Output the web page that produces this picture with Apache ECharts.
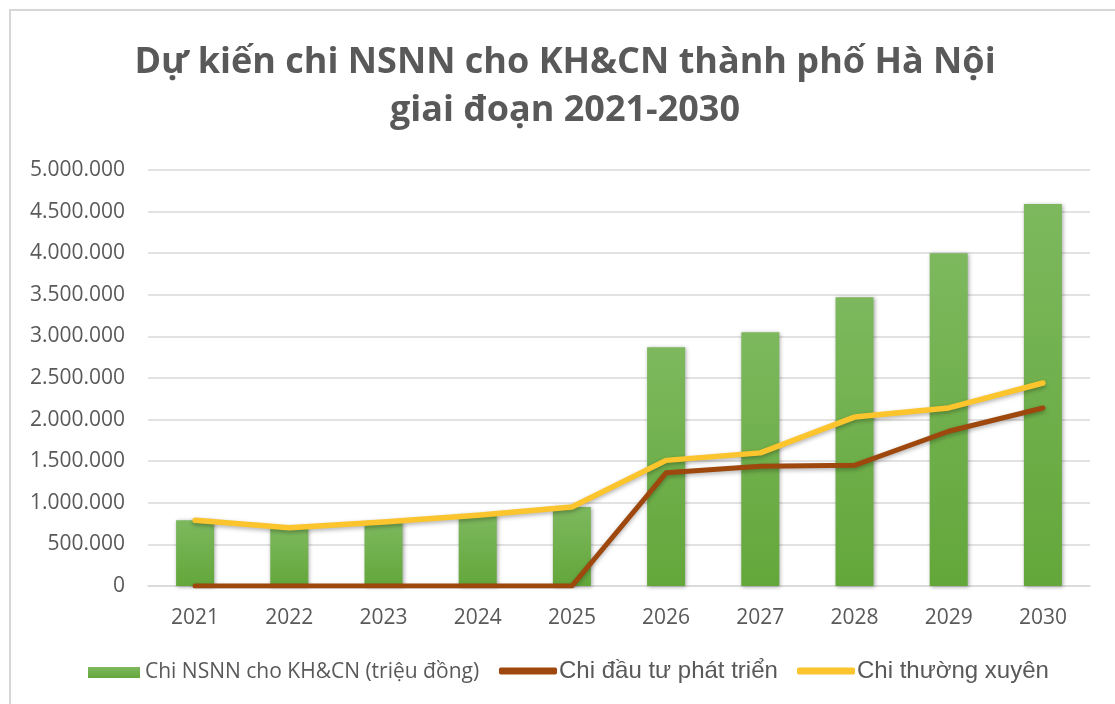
<!DOCTYPE html>
<html>
<head>
<meta charset="utf-8">
<script src="https://cdn.jsdelivr.net/npm/echarts@6/dist/echarts.min.js"></script>
<style>
html,body{margin:0;padding:0;background:#fff;}
#chart{width:1115px;height:704px;}
</style>
</head>
<body>
<div id="chart"></div>
<script>
var years = ['2021','2022','2023','2024','2025','2026','2027','2028','2029','2030'];
var totalBudget = [790000, 700000, 770000, 850000, 950000, 2870000, 3050000, 3470000, 4000000, 4590000];
var devInvest = [0, 0, 0, 0, 0, 1360000, 1440000, 1450000, 1860000, 2140000];
var regularSpend = [790000, 700000, 770000, 850000, 950000, 1510000, 1600000, 2030000, 2140000, 2440000];
var seriesNames = ['Chi NSNN cho KH&CN (triệu đồng)', 'Chi đầu tư phát triển', 'Chi thường xuyên'];
var titleText = 'Dự kiến chi NSNN cho KH&CN thành phố Hà Nội\ngiai đoạn 2021-2030';

function fmt(v){ return String(v).replace(/\B(?=(\d{3})+(?!\d))/g, '.'); }

var chart = echarts.init(document.getElementById('chart'), null, {renderer:'canvas'});
var grey = '#595959';
var option = {
  backgroundColor: '#fff',
  animation: false,
  graphic: [{
    type: 'rect', shape: {x: 10, y: 10, width: 1200, height: 800},
    style: {fill: 'none', stroke: '#d6d6d6', lineWidth: 2}, z: -10, silent: true
  }],
  title: {
    text: titleText,
    left: 565, top: 39, padding: 0,
    textAlign: 'center',
    textStyle: {fontFamily: 'Open Sans', fontWeight: 'bold', fontSize: 36, color: grey, lineHeight: 48, align: 'center'}
  },
  grid: {left: 148, right: 25, top: 170, bottom: 118, containLabel: false},
  legend: [
    {data: [{name: seriesNames[0], icon: 'rect'}], left: 88, top: 662, itemWidth: 52, itemHeight: 11, padding: 0,
     textStyle: {fontFamily: 'Open Sans', fontSize: 21, color: grey}},
    {data: [{name: seriesNames[1], icon: 'roundRect'}], left: 499, top: 659, itemWidth: 58, itemHeight: 7, padding: 0,
     textStyle: {fontFamily: 'Liberation Sans', fontSize: 24, color: grey, padding: [0,0,0,-3]}},
    {data: [{name: seriesNames[2], icon: 'roundRect'}], left: 797, top: 659, itemWidth: 58, itemHeight: 7, padding: 0,
     textStyle: {fontFamily: 'Liberation Sans', fontSize: 24, color: grey, padding: [0,0,0,-3]}}
  ],
  xAxis: {
    type: 'category', data: years,
    axisLine: {show: true, lineStyle: {color: '#d9d9d9', width: 1.5}},
    axisTick: {show: false},
    axisLabel: {fontFamily: 'Open Sans', fontSize: 21, color: grey, margin: 22}
  },
  yAxis: {
    type: 'value', min: 0, max: 5000000, interval: 500000,
    axisLine: {show: false}, axisTick: {show: false},
    splitLine: {lineStyle: {color: '#d9d9d9', width: 1.5}},
    axisLabel: {fontFamily: 'Open Sans', fontSize: 21, color: grey, margin: 23, formatter: fmt}
  },
  series: [
    {
      name: seriesNames[0], type: 'bar', data: totalBudget, barWidth: 38,
      itemStyle: {
        color: new echarts.graphic.LinearGradient(0, 0, 0, 1, [
          {offset: 0, color: '#7db85e'}, {offset: 1, color: '#63a73a'}
        ]),
        shadowColor: 'rgba(0,0,0,0.35)', shadowBlur: 4, shadowOffsetX: 1, shadowOffsetY: 1
      }
    },
    {
      name: seriesNames[1], type: 'line', data: devInvest, symbol: 'none',
      color: '#9e480e',
      lineStyle: {color: '#9e480e', width: 5, cap: 'round', join: 'round',
        shadowColor: 'rgba(0,0,0,0.3)', shadowBlur: 4, shadowOffsetY: 2},
      z: 3
    },
    {
      name: seriesNames[2], type: 'line', data: regularSpend, symbol: 'none',
      color: '#fcc52d',
      lineStyle: {color: '#fcc52d', width: 5.5, cap: 'round', join: 'round',
        shadowColor: 'rgba(0,0,0,0.3)', shadowBlur: 4, shadowOffsetY: 2},
      z: 4
    }
  ]
};
chart.setOption(option);
</script>
</body>
</html>
